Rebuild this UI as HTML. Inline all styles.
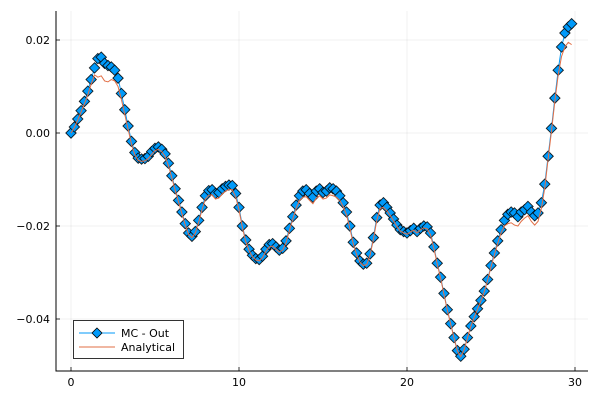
<!DOCTYPE html>
<html><head><meta charset="utf-8"><style>
body{margin:0;background:#fff}
svg{display:block;font-family:"DejaVu Sans","Liberation Sans",sans-serif}
</style></head><body>
<svg id="chart" width="600" height="400"></svg>
<script>
const xStep = 0.2;
const mcValues = [0.0000,0.0013,0.0030,0.0048,0.0068,0.0090,0.0115,0.0140,0.0160,0.0163,
0.0150,0.0145,0.0142,0.0135,0.0118,0.0085,0.0050,0.0015,-0.0018,-0.0042,
-0.0054,-0.0056,-0.0055,-0.0050,-0.0040,-0.0033,-0.0030,-0.0035,-0.0045,-0.0065,
-0.0092,-0.0120,-0.0145,-0.0170,-0.0195,-0.0215,-0.0222,-0.0212,-0.0188,-0.0160,
-0.0135,-0.0124,-0.0122,-0.0130,-0.0128,-0.0120,-0.0115,-0.0112,-0.0113,-0.0130,
-0.0160,-0.0200,-0.0230,-0.0250,-0.0263,-0.0270,-0.0272,-0.0265,-0.0250,-0.0240,
-0.0238,-0.0245,-0.0252,-0.0248,-0.0232,-0.0205,-0.0180,-0.0155,-0.0135,-0.0125,
-0.0122,-0.0130,-0.0138,-0.0125,-0.0120,-0.0128,-0.0125,-0.0118,-0.0120,-0.0125,
-0.0135,-0.0150,-0.0170,-0.0200,-0.0235,-0.0258,-0.0275,-0.0282,-0.0280,-0.0260,
-0.0225,-0.0182,-0.0155,-0.0150,-0.0160,-0.0172,-0.0185,-0.0198,-0.0208,-0.0212,
-0.0215,-0.0210,-0.0205,-0.0212,-0.0205,-0.0200,-0.0202,-0.0215,-0.0245,-0.0280,
-0.0310,-0.0345,-0.0380,-0.0410,-0.0440,-0.0468,-0.0480,-0.0465,-0.0440,-0.0415,
-0.0395,-0.0378,-0.0360,-0.0340,-0.0315,-0.0285,-0.0258,-0.0232,-0.0208,-0.0188,
-0.0175,-0.0170,-0.0172,-0.0180,-0.0170,-0.0165,-0.0158,-0.0170,-0.0178,-0.0172,
-0.0150,-0.0110,-0.0050,0.0010,0.0075,0.0135,0.0185,0.0215,0.0228,0.0235];
const analyticalValues = [0.0000,0.0012,0.0028,0.0045,0.0063,0.0082,0.0105,0.0125,0.0120,0.0123,
0.0112,0.0110,0.0115,0.0112,0.0100,0.0072,0.0040,0.0008,-0.0024,-0.0047,
-0.0059,-0.0061,-0.0060,-0.0055,-0.0046,-0.0038,-0.0035,-0.0040,-0.0050,-0.0070,
-0.0096,-0.0123,-0.0148,-0.0173,-0.0198,-0.0218,-0.0225,-0.0215,-0.0192,-0.0165,
-0.0142,-0.0134,-0.0133,-0.0142,-0.0140,-0.0131,-0.0125,-0.0121,-0.0122,-0.0137,
-0.0165,-0.0203,-0.0233,-0.0253,-0.0266,-0.0273,-0.0275,-0.0268,-0.0254,-0.0245,
-0.0243,-0.0250,-0.0256,-0.0252,-0.0236,-0.0210,-0.0185,-0.0162,-0.0145,-0.0138,
-0.0137,-0.0145,-0.0152,-0.0140,-0.0135,-0.0142,-0.0140,-0.0133,-0.0135,-0.0138,
-0.0145,-0.0158,-0.0176,-0.0205,-0.0238,-0.0261,-0.0278,-0.0285,-0.0283,-0.0263,
-0.0229,-0.0188,-0.0162,-0.0160,-0.0167,-0.0177,-0.0189,-0.0201,-0.0211,-0.0215,
-0.0218,-0.0213,-0.0209,-0.0215,-0.0208,-0.0204,-0.0206,-0.0219,-0.0248,-0.0282,
-0.0312,-0.0347,-0.0381,-0.0411,-0.0441,-0.0469,-0.0481,-0.0466,-0.0441,-0.0416,
-0.0396,-0.0379,-0.0361,-0.0341,-0.0317,-0.0288,-0.0262,-0.0237,-0.0215,-0.0200,
-0.0195,-0.0193,-0.0198,-0.0200,-0.0190,-0.0183,-0.0178,-0.0190,-0.0198,-0.0190,
-0.0162,-0.0118,-0.0056,0.0004,0.0068,0.0125,0.0165,0.0185,0.0195,0.0190];
const xTicks = [0,10,20,30];
const xTickLabels = ["0","10","20","30"];
const yTicks = [0.02,0.00,-0.02,-0.04];
const yTickLabels = ["0.02","0.00","\u22120.02","\u22120.04"];

const NS = "http://www.w3.org/2000/svg";
const svg = document.getElementById('chart');
const L=56, R=588, T=11, B=371;
function sx(x){return 71 + x*16.8;}
function sy(v){return 133 - v*4650;}
function mk(tag, attrs, parent){const e=document.createElementNS(NS,tag);for(const k in attrs)e.setAttribute(k,attrs[k]);(parent||svg).appendChild(e);return e;}

xTicks.forEach((t,i)=>{
  const g=mk('line',{x1:sx(t),x2:sx(t),y1:T,y2:B,stroke:'#000','stroke-opacity':0.1,'stroke-width':0.6});
  
  
  const tk=mk('line',{x1:sx(t),x2:sx(t),y1:B,y2:B-4,stroke:'#000','stroke-width':0.8});
  
  
  const tx=mk('text',{x:sx(t),y:B+15,'text-anchor':'middle','font-size':11,fill:'#000'});
  tx.textContent=xTickLabels[i];
  
  
});
yTicks.forEach((t,i)=>{
  const g=mk('line',{x1:L,x2:R,y1:sy(t),y2:sy(t),stroke:'#000','stroke-opacity':0.1,'stroke-width':0.6});
  
  
  const tk=mk('line',{x1:L,x2:L+4,y1:sy(t),y2:sy(t),stroke:'#000','stroke-width':0.8});
  
  
  const tx=mk('text',{x:L-6,y:sy(t)+4,'text-anchor':'end','font-size':11,fill:'#000'});
  tx.textContent=yTickLabels[i];
  
  
});
const ax=mk('path',{d:`M${L},${T}V${B}H${R}`,fill:'none',stroke:'#000','stroke-width':1});



function pts(arr){return arr.map((v,i)=>`${sx(i*xStep).toFixed(2)},${sy(v).toFixed(2)}`).join(' ');}
const mcLine=mk('polyline',{points:pts(mcValues),fill:'none',stroke:'#009AFA','stroke-width':1});


const mg=mk('g',{});


mcValues.forEach((v,i)=>{
  const x=sx(i*xStep), y=sy(v), r=5.2;
  const d=mk('polygon',{points:`${x},${y-r} ${x+r},${y} ${x},${y+r} ${x-r},${y}`,fill:'#009AFA',stroke:'#000','stroke-width':0.9,'stroke-opacity':0.85},mg);
  
  
});
const anLine=mk('polyline',{points:pts(analyticalValues),fill:'none',stroke:'#E26F46','stroke-width':1});



const lg=mk('g',{});


mk('rect',{x:73.5,y:320.5,width:110,height:38,fill:'#fff',stroke:'#000','stroke-width':0.8},lg);
const e1=mk('g',{},lg);


mk('line',{x1:79,x2:115,y1:333,y2:333,stroke:'#009AFA','stroke-width':1},e1);
mk('polygon',{points:'97,328 102,333 97,338 92,333',fill:'#009AFA',stroke:'#000','stroke-width':0.8},e1);
const t1=mk('text',{x:121,y:337,'font-size':11,fill:'#000'},e1);t1.textContent='MC - Out';
const e2=mk('g',{},lg);


mk('line',{x1:79,x2:115,y1:347,y2:347,stroke:'#E26F46','stroke-width':1},e2);
const t2=mk('text',{x:121,y:351,'font-size':11,fill:'#000'},e2);t2.textContent='Analytical';
</script>
</body></html>
